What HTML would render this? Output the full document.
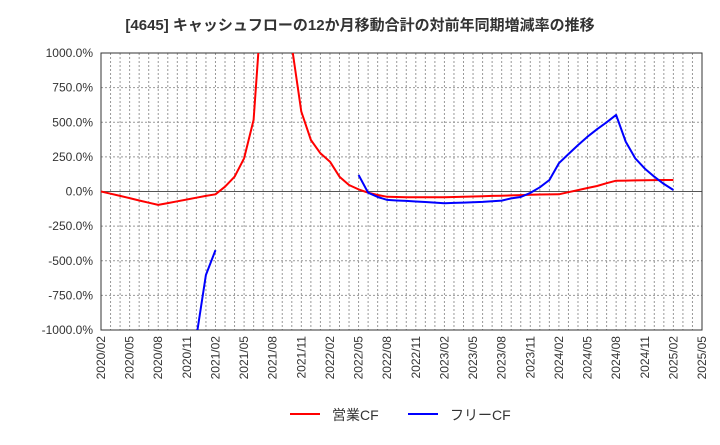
<!DOCTYPE html>
<html><head><meta charset="utf-8"><style>
body{margin:0;background:#fff;}
svg text{font-family:"Liberation Sans","Noto Sans CJK JP",sans-serif;fill:#333;}
</style></head><body>
<svg id="chart" width="720" height="440">
<text x="360" y="30" text-anchor="middle" font-size="15" font-weight="bold">[4645]  キャッシュフローの12か月移動合計の対前年同期増減率の推移</text>
<g id="grid"></g><g id="axes"></g>
<defs><clipPath id="clip"><rect x="101" y="53" width="601" height="277"/></clipPath></defs>
<g id="series" clip-path="url(#clip)"></g>
<g>
<line x1="290" y1="414" x2="320" y2="414" stroke="#f00" stroke-width="2"/>
<text x="332" y="420" font-size="14">営業CF</text>
<line x1="408" y1="414" x2="438" y2="414" stroke="#00f" stroke-width="2"/>
<text x="450" y="420" font-size="14">フリーCF</text>
</g>
</svg>
<script>
const yTicks=[1000,750,500,250,0,-250,-500,-750,-1000];
const xTickLabels=["2020/02","2020/05","2020/08","2020/11","2021/02","2021/05","2021/08","2021/11","2022/02","2022/05","2022/08","2022/11","2023/02","2023/05","2023/08","2023/11","2024/02","2024/05","2024/08","2024/11","2025/02","2025/05"];
const operatingCF=[0,-16,-32,-48,-65,-81,-97,-84,-71,-58,-45,-32,-20,35,107,240,517,1500,2000,2000,1050,577,372,276,215,107,47,15,-9,-25,-38,-40,-41,-42,-42,-42,-42,-40,-38,-36,-34,-32,-30,-28,-26,-24,-22,-21,-20,-5,10,25,40,60,78,79,80,81,82,83,83];
const freeCF=[null,null,null,null,null,null,null,null,null,null,-1050,-603,-423,null,null,null,null,null,null,null,null,null,null,null,null,null,null,119,-9,-40,-61,-65,-68,-72,-76,-80,-85,-82,-80,-78,-75,-70,-66,-50,-40,-10,30,83,204,270,335,396,450,500,553,360,240,165,107,55,11];
const NS="http://www.w3.org/2000/svg";
const X0=101,X1=702,Y0=53,Y1=330,NM=63;
const xs=i=>X0+i*(X1-X0)/NM;
const ys=v=>Y1-(v+1000)/2000*(Y1-Y0);
const grid=document.getElementById('grid'),axes=document.getElementById('axes'),ser=document.getElementById('series');
function mk(t,a,p){const e=document.createElementNS(NS,t);for(const k in a)e.setAttribute(k,a[k]);p.appendChild(e);return e;}
for(let i=1;i<NM;i++){const l=mk('line',{x1:xs(i),x2:xs(i),y1:Y0,y2:Y1,stroke:'#999','stroke-dasharray':'2,2','stroke-width':1},grid);

}
yTicks.forEach(v=>{const y=ys(v);
if(v!==1000&&v!==-1000){const l=mk('line',{x1:X0,x2:X1,y1:y,y2:y,stroke:v===0?'#555':'#999','stroke-dasharray':v===0?'':'2,2','stroke-width':1},grid);

}
const t=mk('text',{x:93,y:y+4,'text-anchor':'end','font-size':12},axes);t.textContent=v.toFixed(1)+'%';

});
xTickLabels.forEach((s,k)=>{const x=xs(k*3);const t=mk('text',{x:0,y:0,'text-anchor':'end','font-size':12,transform:`translate(${x+4},336) rotate(-90)`},axes);t.textContent=s;

});
const fr=mk('rect',{x:X0,y:Y0,width:X1-X0,height:Y1-Y0,fill:'none',stroke:'#333','stroke-width':1},axes);


function draw(arr,col,name){let d='',pen=false;arr.forEach((v,i)=>{if(v===null){pen=false;return;}d+=(pen?'L':'M')+xs(i).toFixed(1)+','+ys(v).toFixed(1);pen=true;});
const p=mk('path',{d:d,fill:'none',stroke:col,'stroke-width':2,'stroke-linejoin':'round'},ser);

}
draw(operatingCF,'#f00','operating-cf-line');
draw(freeCF,'#00f','free-cf-line');
</script>
</body></html>
